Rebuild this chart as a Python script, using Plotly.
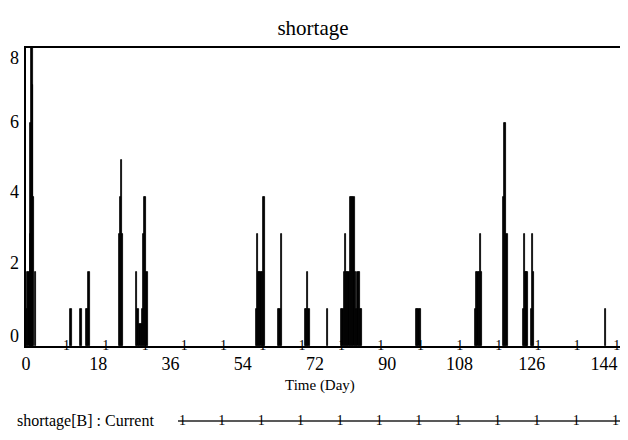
import plotly.graph_objects as go

# ---- data ----
spike_days = [
    0.15, 0.45, 0.75, 1.05, 1.25, 1.5, 1.7, 1.95, 2.4,
    11.2, 13.7, 15.0, 15.3, 15.7,
    23.35, 23.6, 23.85, 24.1,
    27.6, 27.9, 28.4, 28.7, 29.0, 29.3, 29.55, 29.85, 30.15,
    57.4, 57.65, 57.95, 58.25, 58.55, 58.85, 59.15, 59.4,
    63.0, 63.3, 63.6,
    69.6, 69.9, 70.2, 70.5,
    75.2,
    78.7, 79.0, 79.3, 79.6, 79.9, 80.2, 80.5, 80.8, 81.1, 81.4, 81.75, 82.05,
    82.35, 82.7, 83.0, 83.3, 83.55,
    97.3, 97.6, 97.9, 98.2,
    111.95, 112.3, 112.6, 112.9, 113.2, 113.5,
    119.05, 119.3, 119.55, 119.85,
    124.0, 124.3, 124.6, 124.85,
    125.95, 126.25, 126.5,
    144.3,
]
spike_values = [
    1, 2, 2, 3, 6, 9, 7, 4, 2,
    1, 1, 1, 1, 2,
    3, 4, 5, 3,
    2, 1, 0.6, 0.6, 1, 3, 4, 4, 2,
    1, 3, 2, 2, 2, 2, 4, 4,
    1, 1, 3,
    1, 1, 2, 1,
    1,
    1, 1, 2, 3, 2, 2, 2, 4, 4, 4, 4, 2,
    1, 2, 2, 1, 1,
    1, 1, 1, 1,
    1, 2, 2, 2, 3, 2,
    4, 6, 6, 3,
    1, 3, 2, 2,
    1, 3, 2,
    1,
]
marker_days = [10.1, 19.9, 29.7, 39.4, 49.2, 59.0, 68.8, 78.6, 88.4, 98.3,
               108.1, 117.8, 127.6, 137.3, 147.2]
x_ticks = [0, 18, 36, 54, 72, 90, 108, 126, 144]
y_ticks = [0, 2, 4, 6, 8]
y_label_shift = [10, 9, 5, 1, -10]
legend_marker_pos = [0.01, 0.097, 0.185, 0.272, 0.36, 0.447, 0.535, 0.622,
                     0.71, 0.797, 0.885, 0.972]
series_name = "shortage[B] : Current"

FONT = "Liberation Serif, Times New Roman, Times, serif"
OFF = 8                      # default page margin of the html body
W, H = 628 - OFF, 440 - OFF
ML, MR, MT, MB = 26 - OFF, 0, 48 - OFF, 4
PW, PH = W - ML - MR, H - MT - MB


def py(page_y):
    """paper y for a page-pixel y"""
    return (H - MB - (page_y - OFF)) / PH


def px(page_x):
    return (page_x - OFF - ML) / PW


fig = go.Figure()

fig.add_trace(go.Bar(
    x=spike_days, y=spike_values, width=0.3,
    marker=dict(color="black", line=dict(color="black", width=0.8)),
    showlegend=False, hoverinfo="x+y",
))

fig.add_trace(go.Scatter(
    x=marker_days, y=[0] * len(marker_days), mode="text",
    text=["1"] * len(marker_days), textposition="middle center",
    textfont=dict(family=FONT, size=14, color="black"),
    cliponaxis=False, showlegend=False, hoverinfo="skip",
))

lx = [0] + legend_marker_pos + [1]
fig.add_trace(go.Scatter(
    x=lx, y=[0] * len(lx), mode="lines+text",
    text=[""] + ["1"] * len(legend_marker_pos) + [""],
    textposition="middle center",
    textfont=dict(family=FONT, size=14, color="black"),
    line=dict(color="#222", width=1.5),
    xaxis="x2", yaxis="y2", cliponaxis=False,
    showlegend=False, hoverinfo="skip",
))

fig.update_layout(
    width=W, height=H,
    margin=dict(l=ML, r=MR, t=MT, b=MB, autoexpand=False),
    paper_bgcolor="white", plot_bgcolor="white",
    barmode="overlay", bargap=0,
    title=dict(text="shortage", x=px(313), xref="paper", xanchor="center",
               y=1 - (28 - OFF) / H, yref="container", yanchor="middle",
               font=dict(family=FONT, size=21, color="black")),
    xaxis=dict(range=[0, 150], tickvals=x_ticks,
               ticktext=[str(t) for t in x_ticks],
               showgrid=False, zeroline=False, automargin=False,
               showline=True, linecolor="black", linewidth=2, mirror=True,
               ticks="", tickfont=dict(family=FONT, size=18, color="black"),
               domain=[0, 1]),
    yaxis=dict(range=[0, 8], showgrid=False, zeroline=False, automargin=False,
               showline=True, linecolor="black", linewidth=2,
               showticklabels=False, ticks="",
               domain=[py(346), 1]),
    xaxis2=dict(range=[0, 1], domain=[px(178), 1], visible=False,
                anchor="y2"),
    yaxis2=dict(range=[-1, 1], domain=[py(421) - 0.03, py(421) + 0.03],
                visible=False, anchor="x2"),
)

annotations = []
for v, s in zip(y_ticks, y_label_shift):
    annotations.append(dict(
        x=px(8), xref="paper", xanchor="left",
        y=v, yref="y", yanchor="middle", yshift=s,
        text=str(v), showarrow=False,
        font=dict(family=FONT, size=18, color="black")))
annotations.append(dict(
    x=px(320), xref="paper", xanchor="center",
    y=py(385), yref="paper", yanchor="middle",
    text="Time (Day)", showarrow=False,
    font=dict(family=FONT, size=15, color="black")))
annotations.append(dict(
    x=px(15), xref="paper", xanchor="left",
    y=py(421), yref="paper", yanchor="middle",
    text=series_name, showarrow=False,
    font=dict(family=FONT, size=16, color="black")))
fig.update_layout(annotations=annotations)

fig.write_html("out.html")
